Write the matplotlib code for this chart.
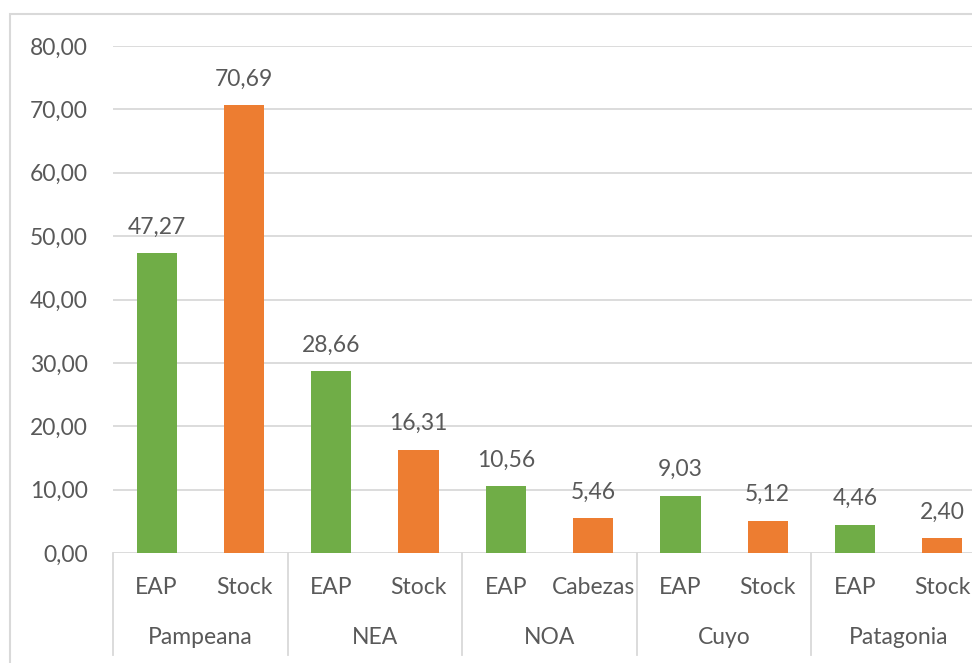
import matplotlib.pyplot as plt
import matplotlib.transforms as mtransforms
from matplotlib.patches import Rectangle

plt.rcParams['font.family'] = ['Lato', 'DejaVu Sans']

# --- data ---
regions = ['Pampeana', 'NEA', 'NOA', 'Cuyo', 'Patagonia']
sub_labels = ['EAP', 'Stock', 'EAP', 'Stock', 'EAP', 'Cabezas', 'EAP', 'Stock', 'EAP', 'Stock']
values = [47.27, 70.69, 28.66, 16.31, 10.56, 5.46, 9.03, 5.12, 4.46, 2.40]
kinds = ['EAP', 'Stock'] * 5
yticks = [0, 10, 20, 30, 40, 50, 60, 70, 80]

colors = {'EAP': '#70AD47', 'Stock': '#ED7D31'}
txt = '#595959'
grid = '#d9d9d9'
fs = 16.5

W, H = 972, 663
fig = plt.figure(figsize=(W / 100, H / 100), dpi=100)
# plot area (pixel coords from the reference), right edge runs past the image
left, right, top, bottom = 113, 986, 46, 553
ax = fig.add_axes([left / W, 1 - bottom / H, (right - left) / W, (bottom - top) / H])

x = list(range(len(values)))
ax.bar(x, values, width=0.46, color=[colors[k] for k in kinds], zorder=3)
for xi, v in zip(x, values):
    ax.annotate(f'{v:.2f}'.replace('.', ','), (xi, v), xytext=(0, 14),
                textcoords='offset points', ha='center', va='baseline',
                fontsize=fs, color=txt)

ax.set_xlim(-0.5, len(values) - 0.5)
ax.set_ylim(0, 80)
ax.set_yticks(yticks)
ax.set_yticklabels([f'{t:.2f}'.replace('.', ',') for t in yticks], fontsize=fs, color=txt)
ax.tick_params(axis='y', length=0, pad=18)
ax.set_xticks([])
ax.yaxis.grid(True, color=grid, linewidth=1.3, zorder=0)
for s in ax.spines.values():
    s.set_visible(False)

# multi-level category axis
trans = mtransforms.blended_transform_factory(ax.transData, ax.transAxes)
ah = (bottom - top)
def axfrac(py):
    return (bottom - py) / ah

for xi, lab in zip(x, sub_labels):
    ax.text(xi, axfrac(588), lab, transform=trans, ha='center', va='center',
            fontsize=fs, color=txt)
for i, reg in enumerate(regions):
    ax.text(2 * i + 0.5, axfrac(637), reg, transform=trans, ha='center', va='center',
            fontsize=fs, color=txt)
for i in range(len(regions) + 1):
    ax.plot([2 * i - 0.5, 2 * i - 0.5], [0, axfrac(655)], transform=trans,
            color=grid, linewidth=1.3, clip_on=False)

# chart frame
fig.patches.append(Rectangle((10 / W, -0.1), 1.2, 1 - 14 / H + 0.1,
                             transform=fig.transFigure, fill=False,
                             edgecolor=grid, linewidth=1.5))

fig.savefig('out.png', dpi=100)
